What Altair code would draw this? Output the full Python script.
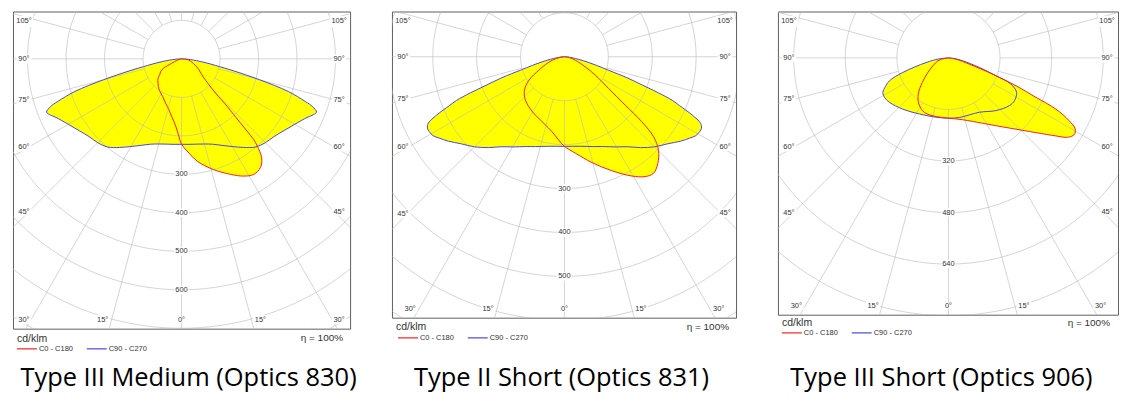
import math
import numpy as np
import pandas as pd
import altair as alt

# ---------------- values ----------------
# gamma = angle from nadir in degrees (negative = left half), cd = intensity in cd/klm
P1_C90_ANG = [-90, -87, -85, -83, -81, -79, -77, -75, -73, -71, -70, -68.5, -67, -65, -60, -55, -50, -45, -40,
              -35, -30, -25, -20, -15, -10, -5, 0,
              5, 10, 15, 20, 25, 30, 35, 40, 45, 50, 55, 60, 65, 67, 68.5, 70, 71, 73, 75, 77, 79, 81, 83, 85, 87, 90]
P1_C90_CD = [0, 12, 24, 40, 62, 90, 140, 210, 290, 340, 362, 377, 372, 360, 340, 325, 314, 308, 299,
             281, 263, 248, 236, 229, 225, 223, 222,
             223, 225, 229, 236, 248, 263, 281, 299, 308, 314, 325, 340, 360, 372, 377, 362, 340, 290, 210, 140, 90,
             62, 40, 24, 12, 0]
P1_C0_ANG = [-90, -81, -75, -70, -66, -62.5, -59, -54, -50, -44, -36, -27, -20, -14, -9, -5, -2, 0,
             3.5, 8.7, 16, 23, 28, 32, 36, 39, 41, 41.8, 42.2, 42.6, 43.1, 43.9, 44.8, 47, 50, 58, 65, 72, 81, 90]
P1_C0_CD = [0, 3, 7, 14, 28, 52, 63, 70, 80, 88, 99, 109, 122, 136, 155, 175, 201, 222,
            240, 269, 299, 326, 345, 354, 349, 331, 300, 281, 253, 226, 198, 171, 125, 95, 74, 53, 40, 28, 19, 0]

P2_C90_ANG = [-90, -86, -82, -78, -75, -73, -71.5, -70, -69, -68, -67, -65.5, -64, -62.5, -61, -59, -57, -54, -50,
              -45, -40, -35, -30, -23, -18, -10, 0,
              10, 18, 23, 30, 35, 40, 45, 50, 54, 57, 59, 61, 62.5, 64, 65.5, 67, 68, 69, 70, 71.5, 73, 75, 78,
              82, 86, 90]
P2_C90_CD = [0, 8, 20, 45, 75, 105, 150, 190, 230, 265, 285, 320, 345, 352, 352, 349, 340, 327, 308,
             290, 270, 250, 237, 222, 215, 207, 204,
             207, 215, 222, 237, 250, 270, 290, 308, 327, 340, 349, 352, 352, 345, 320, 285, 265, 230, 190, 150,
             105, 75, 45, 20, 8, 0]
P2_C0_ANG = [-90, -82, -74, -68, -62.3, -56.6, -50, -42, -30, -17, -9.4, -4, 0,
             6.5, 14.6, 22.6, 29.5, 34, 37.4, 41.2, 45.2, 48.1, 50, 51.5, 54.3, 59.2, 64.1, 72.4, 82, 90]
P2_C0_CD = [0, 10, 29, 46, 66, 97, 119, 133, 145, 159, 173, 190, 204,
            221, 249, 281, 312, 329, 334, 323, 302, 273, 230, 177, 124, 82, 53, 26, 10, 0]

P3_C90_ANG = [-90, -84, -78.3, -72.3, -68.8, -65.5, -62.2, -58, -52.9, -41.7, -27.3, -11.7, 0,
              10.5, 29.6, 42, 51.9, 56.9, 63.1, 67.2, 69.4, 72.8, 78.5, 84, 90]
P3_C90_CD = [0, 30, 71, 149, 196, 215, 230, 233, 229, 213, 196, 188, 187,
             188, 194, 220, 240, 244, 237, 210, 158, 101, 45, 18, 0]
P3_C0_ANG = [-90, -82, -74.8, -63, -54.8, -46.9, -39.9, -32.7, -23.7, -11.8, 0,
             13, 27.6, 40.9, 49.5, 54, 56.3, 58.6, 60.7, 62.5, 64.5, 65.7, 67.6, 69.8, 73.3, 80, 90]
P3_C0_CD = [0, 12, 34, 54, 78, 111, 146, 170, 185, 186, 187,
            197, 229, 288, 357, 412, 444, 457, 451, 422, 369, 298, 227, 146, 68, 25, 0]

CURVE_NAMES = ["C0 - C180", "C90 - C270"]
TITLES = ["Type III Medium (Optics 830)", "Type II Short (Optics 831)", "Type III Short (Optics 906)"]
RING_STEP = [100, 100, 160]
RING_COUNT = [8, 7, 6]
RING_LABELS = [[300, 400, 500, 600], [300, 400, 500], [320, 480, 640]]
SIDE_ANGLES = [45, 60, 75, 90, 105]
BOTTOM_ANGLES = [30, 15, 0]
UNIT = "cd/klm"
EFFICIENCY = "\u03b7 = 100%"

# ---------------- layout / style ----------------
FONT = "Liberation Sans"
TITLE_FONT = "Open Sans"
YELLOW = "#ffff00"
COLORS = ["#f52020", "#4848e0"]
GRID = "#b8b8b8"
LAYOUT = [
    dict(w=338, h=318, xd=[-438, 438], yd=[-701, 123], unit=(4, 328), eta=(331, 327), leg=(3, 327), title=(176, 375)),
    dict(w=345, h=307, xd=[-393, 391], yd=[-594, 103], unit=(4, 316), eta=(338, 316), leg=(5, 316), title=(170, 375)),
    dict(w=341, h=304, xd=[-529, 526], yd=[-797, 144], unit=(4, 312), eta=(333, 312), leg=(3, 311), title=(164, 375)),
]
CURVES = [
    ((P1_C0_ANG, P1_C0_CD), (P1_C90_ANG, P1_C90_CD)),
    ((P2_C0_ANG, P2_C0_CD), (P2_C90_ANG, P2_C90_CD)),
    ((P3_C0_ANG, P3_C0_CD), (P3_C90_ANG, P3_C90_CD)),
]


def polar_df(ang, cd, name):
    a = np.radians(np.asarray(ang, float))
    r = np.asarray(cd, float)
    return pd.DataFrame({"x": r * np.sin(a), "y": -r * np.cos(a), "ord": np.arange(len(a)), "curve": name})


def grid_df(step, n):
    rows = []
    for k in range(1, n + 1):
        R = k * step
        for i, t in enumerate(range(0, 362, 2)):
            tr = math.radians(t)
            rows.append({"x": R * math.sin(tr), "y": -R * math.cos(tr), "ord": i, "g": f"c{k}"})
    for a in range(0, 360, 15):
        ar = math.radians(a)
        for i, R in enumerate([step, 5000]):
            rows.append({"x": R * math.sin(ar), "y": -R * math.cos(ar), "ord": i, "g": f"r{a}"})
    return pd.DataFrame(rows)


def angle_label_df(L):
    s = L["w"] / (L["xd"][1] - L["xd"][0])
    left_px, right_px = -L["xd"][0] * s, L["xd"][1] * s
    top_px, bottom_px = L["yd"][1] * s, -L["yd"][0] * s
    rows = []
    for g in SIDE_ANGLES:
        gr = math.radians(g)
        for side in (-1, 1):
            d = (left_px if side < 0 else right_px) - 11
            down = d * math.cos(gr) / math.sin(gr) * 0.97
            down = max(down, -(top_px - 10))
            rows.append({"x": side * d / s, "y": -down / s, "text": f"{g}\u00b0"})
    down = bottom_px - 9
    for g in BOTTOM_ANGLES:
        if g == 0:
            rows.append({"x": 0.0, "y": -down / s, "text": "0\u00b0"})
            continue
        for side in (-1, 1):
            edge = left_px if side < 0 else right_px
            xp = min(down * math.tan(math.radians(g)) + 9, edge - 11)
            rows.append({"x": side * xp / s, "y": -down / s, "text": f"{g}\u00b0"})
    df = pd.DataFrame(rows)
    df["bs"] = (df["text"].str.len() * 4.2 + 2) ** 2
    return df


def panel(i):
    L = LAYOUT[i]
    X = alt.X("x:Q", scale=alt.Scale(domain=L["xd"], nice=False, zero=False), axis=None)
    Y = alt.Y("y:Q", scale=alt.Scale(domain=L["yd"], nice=False, zero=False), axis=None)
    (c0a, c0v), (c90a, c90v) = CURVES[i]
    curves = pd.concat([polar_df(c90a, c90v, CURVE_NAMES[1]), polar_df(c0a, c0v, CURVE_NAMES[0])], ignore_index=True)

    fill = alt.Chart(curves).mark_line(
        fill=YELLOW, strokeOpacity=0, interpolate="catmull-rom", clip=True
    ).encode(X, Y, order="ord:Q", detail="curve:N")

    grid = alt.Chart(grid_df(RING_STEP[i], RING_COUNT[i])).mark_line(
        color=GRID, strokeWidth=1, opacity=0.6, clip=True
    ).encode(X, Y, order="ord:Q", detail="g:N")

    rl = pd.DataFrame({"x": 0.0, "y": [-v for v in RING_LABELS[i]], "text": [str(v) for v in RING_LABELS[i]]})
    rl["bs"] = (rl["text"].str.len() * 4.2 + 2) ** 2
    al = angle_label_df(L)
    lab = pd.concat([rl, al], ignore_index=True)
    boxes = alt.Chart(lab).mark_point(
        shape="M-1,-0.6H1V0.6H-1Z", filled=True, color="white", opacity=1, strokeWidth=0
    ).encode(X, Y, size=alt.Size("bs:Q", scale=None, legend=None))
    texts = alt.Chart(lab).mark_text(
        font=FONT, fontSize=7.5, color="#333333", baseline="middle", align="center"
    ).encode(X, Y, text="text:N")

    outline = alt.Chart(curves).mark_line(
        strokeWidth=1, interpolate="catmull-rom", clip=True
    ).encode(
        X, Y, order="ord:Q",
        stroke=alt.Stroke(
            "curve:N",
            scale=alt.Scale(domain=CURVE_NAMES, range=COLORS),
            legend=alt.Legend(
                title=None, orient="none", legendX=L["leg"][0], legendY=L["leg"][1],
                direction="horizontal", symbolType="stroke", symbolSize=400, symbolStrokeWidth=1.2,
                labelFontSize=7.5, labelFont=FONT, labelColor="#333333", labelOffset=1,
                columnPadding=10, padding=0,
            ),
        ),
    )

    one = lambda t: pd.DataFrame({"t": [t]})
    unit = alt.Chart(one(UNIT)).mark_text(
        align="left", baseline="middle", font=FONT, fontSize=10.5, color="#333333"
    ).encode(x=alt.value(L["unit"][0]), y=alt.value(L["unit"][1]), text="t:N")
    eta = alt.Chart(one(EFFICIENCY)).mark_text(
        align="right", baseline="middle", font=FONT, fontSize=10, color="#333333"
    ).encode(x=alt.value(L["eta"][0]), y=alt.value(L["eta"][1]), text="t:N")
    title = alt.Chart(one(TITLES[i])).mark_text(
        align="center", baseline="alphabetic", font=TITLE_FONT, fontSize=25.5, color="#000000"
    ).encode(x=alt.value(L["title"][0]), y=alt.value(L["title"][1]), text="t:N")

    return alt.layer(fill, grid, boxes, texts, outline, unit, eta, title).properties(width=L["w"], height=L["h"])


chart = alt.hconcat(panel(0), panel(1), panel(2), spacing=42, bounds="flush").resolve_scale(
    stroke="independent", x="independent", y="independent", size="independent"
).configure_view(stroke="#5f5f5f", strokeWidth=1).properties(
    padding={"left": 4, "top": 2, "right": 4, "bottom": 4}, background="white"
)

chart.save("out.html", embed_options={"renderer": "svg", "actions": False})
